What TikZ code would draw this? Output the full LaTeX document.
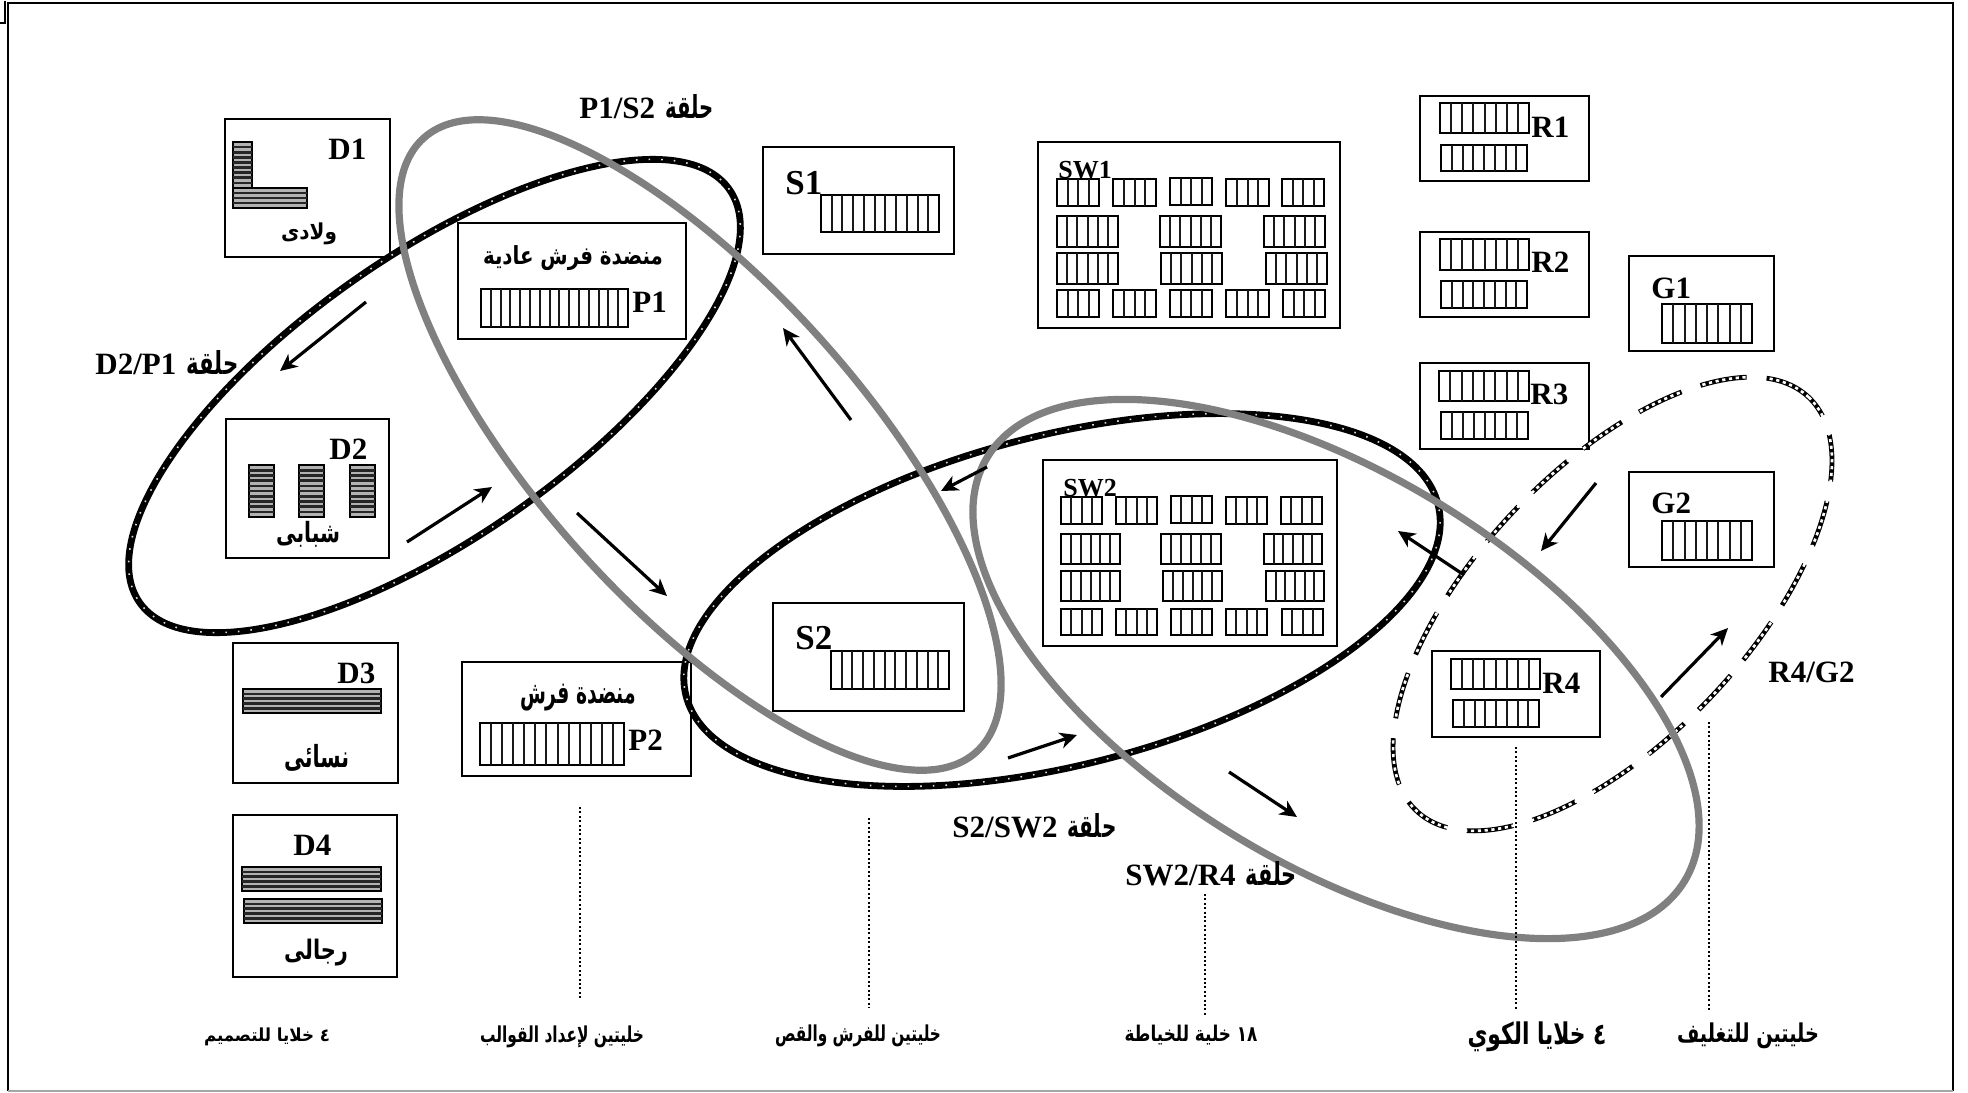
\documentclass[tikz,border=0pt]{standalone}
\usepackage{fontspec}
\usepackage{graphicx}
\usetikzlibrary{arrows.meta}
\setmainfont{Liberation Serif}
\newfontfamily\arabicfont[Script=Arabic]{DejaVu Sans}
\TeXXeTstate=1
\newcommand\artxt[3]{\resizebox*{#1pt}{#2pt}{\arabicfont\bfseries #3}}
\newcommand\halqa[3]{\bfseries #3\hspace{5pt}\resizebox*{#1pt}{#2pt}{\arabicfont\bfseries\beginR حلقة\endR}}
\tikzset{
  cellbox/.style={draw=black,line width=1pt,fill=white,inner sep=0pt,rectangle},
  stripbox/.style={draw=black,line width=1.1pt,fill=white},
  hstripbox/.style={draw=black,line width=1.1pt,fill=black!30},
  vline/.style={draw=black!90,line width=1pt},
  hline/.style={draw=black!85,line width=1.3pt},
  lab/.style={anchor=base west,inner sep=0pt,font=\fontsize{15.5}{15.5}\selectfont\bfseries},
  labsmall/.style={anchor=base west,inner sep=0pt,font=\fontsize{13}{13}\selectfont\bfseries},
  lablarge/.style={anchor=base west,inner sep=0pt,font=\fontsize{17.5}{17.5}\selectfont\bfseries},
  arlab/.style={anchor=center,inner sep=0pt},
  looplab/.style={anchor=base west,inner sep=0pt,font=\fontsize{15.5}{15.5}\selectfont},
  flow/.style={line width=1.6pt,-{Stealth[length=8.5pt,width=8pt,inset=2.5pt]}},
  guide/.style={line width=0.7pt,dash pattern=on 1pt off 1.2pt},
  blackring/.style={line width=3.4pt,draw=black},
  ringdots/.style={line width=0.8pt,draw=black!15,dash pattern=on 0.8pt off 5.5pt},
  grayring/.style={line width=3.6pt,draw=black!50},
  dashring/.style={line width=2.4pt,draw=black,dash pattern=on 23.5pt off 10pt},
  dashcheck/.style={line width=1.3pt,draw=white,dash pattern=on 1.6pt off 1.8pt},
}
\newcommand\vstrip[5]{%
  \draw[stripbox] (#1,#2) rectangle (#3,#4);
  \pgfmathtruncatemacro\nn{#5-1}%
  \foreach \i in {1,...,\nn}{%
    \pgfmathsetmacro\xx{#1+(#3-#1)*\i/#5}%
    \draw[vline] (\xx,#2) -- (\xx,#4);}%
}
\newcommand\hstrip[5]{%
  \draw[hstripbox] (#1,#2) rectangle (#3,#4);
  \pgfmathtruncatemacro\nn{#5-1}%
  \foreach \i in {1,...,\nn}{%
    \pgfmathsetmacro\yy{#2+(#4-#2)*\i/#5}%
    \draw[hline] (#1,\yy) -- (#3,\yy);}%
}
\newcommand\cell[5]{%
  \pgfmathsetmacro\ww{(#4-#2)*0.5}%
  \pgfmathsetmacro\hh{(#5-#3)*0.5}%
  \node[cellbox,minimum width=\ww pt,minimum height=\hh pt] (#1) at ({(#2+#4)/2},{(#3+#5)/2}) {};
}
\newcommand\ring[6]{% style cx cy a b rot
  \draw[#1,rotate around={#6:(#2,#3)}] (#2,#3) ellipse [x radius=#4*0.5pt,y radius=#5*0.5pt];
}
\begin{document}
\begin{tikzpicture}[x=0.5pt,y=-0.5pt]
\useasboundingbox (0,0) rectangle (1968,1092);
% frame
\draw[line width=1pt] (8,1091) -- (8,3) -- (1953,3) -- (1953,1091);
\draw[line width=1.2pt,draw=black!35] (8,1091) -- (1953,1091);
\draw[line width=1pt] (0,23) -- (5,23) -- (5,1);
% boxes
\cell{bD1}{225}{119}{390}{257}
\cell{bD2}{226}{419}{389}{558}
\cell{bD3}{233}{643}{398}{783}
\cell{bD4}{233}{815}{397}{977}
\cell{bP1}{458}{223}{686}{339}
\cell{bP2}{462}{662}{691}{776}
\cell{bS1}{763}{147}{954}{254}
\cell{bS2}{773}{603}{964}{711}
\cell{bSW1}{1038}{142}{1340}{328}
\cell{bSW2}{1043}{460}{1337}{646}
\cell{bR1}{1420}{96}{1589}{181}
\cell{bR2}{1420}{232}{1589}{317}
\cell{bR3}{1420}{363}{1589}{449}
\cell{bR4}{1432}{651}{1600}{737}
\cell{bG1}{1629}{256}{1774}{351}
\cell{bG2}{1629}{472}{1774}{567}
% horizontal stripes
\hstrip{233}{142}{252}{188}{9}
\hstrip{233}{188}{307}{208}{4}
\hstrip{249}{465}{274}{517}{10}
\hstrip{299}{465}{324}{517}{10}
\hstrip{350}{465}{375}{517}{10}
\hstrip{243}{689}{381}{713}{5}
\hstrip{242}{867}{381}{891}{5}
\hstrip{244}{899}{382}{923}{5}
% vertical stripes
\vstrip{481}{289}{628}{327}{15}
\vstrip{480}{723}{624}{765}{13}
\vstrip{821}{195}{939}{232}{11}
\vstrip{831}{651}{949}{689}{11}
\vstrip{1440}{103}{1529}{133}{8}
\vstrip{1441}{145}{1527}{171}{8}
\vstrip{1440}{239}{1529}{270}{8}
\vstrip{1441}{281}{1527}{308}{8}
\vstrip{1439}{371}{1529}{401}{8}
\vstrip{1441}{412}{1528}{439}{8}
\vstrip{1451}{659}{1540}{689}{8}
\vstrip{1453}{700}{1539}{727}{8}
\vstrip{1662}{304}{1752}{343}{8}
\vstrip{1662}{521}{1752}{560}{8}
% SW1
\foreach \a/\b in {1057/1099,1113/1156,1226/1269,1282/1324}{\vstrip{\a}{179}{\b}{206}{4}}
\vstrip{1170}{178}{1212}{205}{4}
\foreach \a/\b in {1057/1118,1160/1221,1264/1325}{\vstrip{\a}{216}{\b}{247}{6}}
\foreach \a/\b in {1057/1118,1161/1222,1266/1327}{\vstrip{\a}{253}{\b}{284}{6}}
\foreach \a/\b in {1057/1099,1113/1156,1170/1212,1226/1269,1283/1325}{\vstrip{\a}{290}{\b}{317}{4}}
% SW2
\foreach \a/\b in {1061/1102,1116/1157,1226/1267,1281/1322}{\vstrip{\a}{497}{\b}{524}{4}}
\vstrip{1171}{496}{1212}{523}{4}
\foreach \a/\b in {1061/1120,1161/1221,1264/1322}{\vstrip{\a}{534}{\b}{564}{6}}
\foreach \a/\b in {1061/1120,1163/1222,1266/1324}{\vstrip{\a}{571}{\b}{601}{6}}
\foreach \a/\b in {1061/1102,1116/1157,1171/1212,1226/1267,1282/1323}{\vstrip{\a}{609}{\b}{635}{4}}
% rings
\ring{blackring}{434.5}{396}{360}{141}{35}
\ring{ringdots}{434.5}{396}{360}{141}{35}
\ring{blackring}{1062}{600}{388}{165}{14.3}
\ring{ringdots}{1062}{600}{388}{165}{14.3}
\ring{dashring}{1612.5}{604}{285}{135.5}{46.5}
\ring{dashcheck}{1612.5}{604}{285}{135.5}{46.5}
\ring{grayring}{700}{445}{413}{160.6}{-48}
\ring{grayring}{1336}{669}{408}{195}{-31.3}
% guides
\coordinate (g1a) at (580,807); \coordinate (g1b) at (580,998);
\coordinate (g2a) at (869,818); \coordinate (g2b) at (869,1008);
\coordinate (g3a) at (1205,894); \coordinate (g3b) at (1205,1016);
\coordinate (g4a) at (1516,747); \coordinate (g4b) at (1516,1009);
\coordinate (g5a) at (1709,722); \coordinate (g5b) at (1709,1010);
\draw[guide] (g1a) -- (g1b);
\draw[guide] (g2a) -- (g2b);
\draw[guide] (g3a) -- (g3b);
\draw[guide] (g4a) -- (g4b);
\draw[guide] (g5a) -- (g5b);
% arrows
\coordinate (f1a) at (366,302); \coordinate (f1b) at (280,371);
\coordinate (f2a) at (407,542); \coordinate (f2b) at (492,487);
\coordinate (f3a) at (577,513); \coordinate (f3b) at (667,596);
\coordinate (f4a) at (851,420); \coordinate (f4b) at (783,328);
\coordinate (f5a) at (987,467); \coordinate (f5b) at (941,491);
\coordinate (f6a) at (1008,758); \coordinate (f6b) at (1077,735);
\coordinate (f7a) at (1229,772); \coordinate (f7b) at (1297,817);
\coordinate (f8a) at (1464,575); \coordinate (f8b) at (1398,531);
\coordinate (f9a) at (1596,483); \coordinate (f9b) at (1541,551);
\coordinate (f10a) at (1661,697); \coordinate (f10b) at (1728,628);
\foreach \n in {1,...,10}{\draw[flow] (f\n a) -- (f\n b);}
% latin labels
\node[lab] (tD1) at (328,159) {D1};
\node[lab] (tD2) at (329,459) {D2};
\node[lab] (tD3) at (337,683) {D3};
\node[lab] (tD4) at (293,855) {D4};
\node[lab] (tP1) at (632,312) {P1};
\node[lab] (tP2) at (628,750) {P2};
\node[lablarge] (tS1) at (785,194) {S1};
\node[lablarge] (tS2) at (795,649) {S2};
\node[labsmall] (tSW1) at (1058,178) {SW1};
\node[labsmall] (tSW2) at (1063,496) {SW2};
\node[lab] (tR1) at (1531,137) {R1};
\node[lab] (tR2) at (1531,272) {R2};
\node[lab] (tR3) at (1530,404) {R3};
\node[lab] (tR4) at (1542,693) {R4};
\node[lab] (tG1) at (1651,298) {G1};
\node[lab] (tG2) at (1651,513) {G2};
\node[lab] (tRG) at (1768,682) {R4/G2};
% loop labels
\node[looplab] (lP1S2) at (579,118) {\halqa{24}{12}{P1/S2}};
\node[looplab] (lD2P1) at (95,374) {\halqa{26}{12}{D2/P1}};
\node[looplab] (lS2SW2) at (952,837) {\halqa{24.5}{12}{S2/SW2}};
\node[looplab] (lSW2R4) at (1125,885) {\halqa{25.5}{12}{SW2/R4}};
% arabic labels
\node[arlab] (aD1) at (309,234) {\artxt{28}{11}{\beginR ولادى\endR}};
\node[arlab] (aD2) at (308,534) {\artxt{32}{13}{\beginR شبابى\endR}};
\node[arlab] (aD3) at (316.5,758) {\artxt{32.5}{13.5}{\beginR نسائى\endR}};
\node[arlab] (aD4) at (316,953) {\artxt{32}{13.5}{\beginR رجالى\endR}};
\node[arlab] (aP1) at (573,258) {\artxt{90}{12.5}{\beginR منضدة فرش عادية\endR}};
\node[arlab] (aP2) at (578,698) {\artxt{58}{13.5}{\beginR منضدة فرش\endR}};
\node[arlab] (b1) at (267,1037) {\artxt{63}{9}{\beginR ٤ خلايا للتصميم\endR}};
\node[arlab] (b2) at (562,1037) {\artxt{82}{11}{\beginR خليتين لإعداد القوالب\endR}};
\node[arlab] (b3) at (858,1036) {\artxt{83}{11}{\beginR خليتين للفرش والقص\endR}};
\node[arlab] (b4) at (1191,1035) {\artxt{66.5}{10}{\beginR ١٨ خلية للخياطة\endR}};
\node[arlab] (b5) at (1537,1037) {\artxt{69.5}{15}{\beginR ٤ خلايا الكوي\endR}};
\node[arlab] (b6) at (1748,1036) {\artxt{71}{13}{\beginR خليتين للتغليف\endR}};
\end{tikzpicture}
\end{document}
